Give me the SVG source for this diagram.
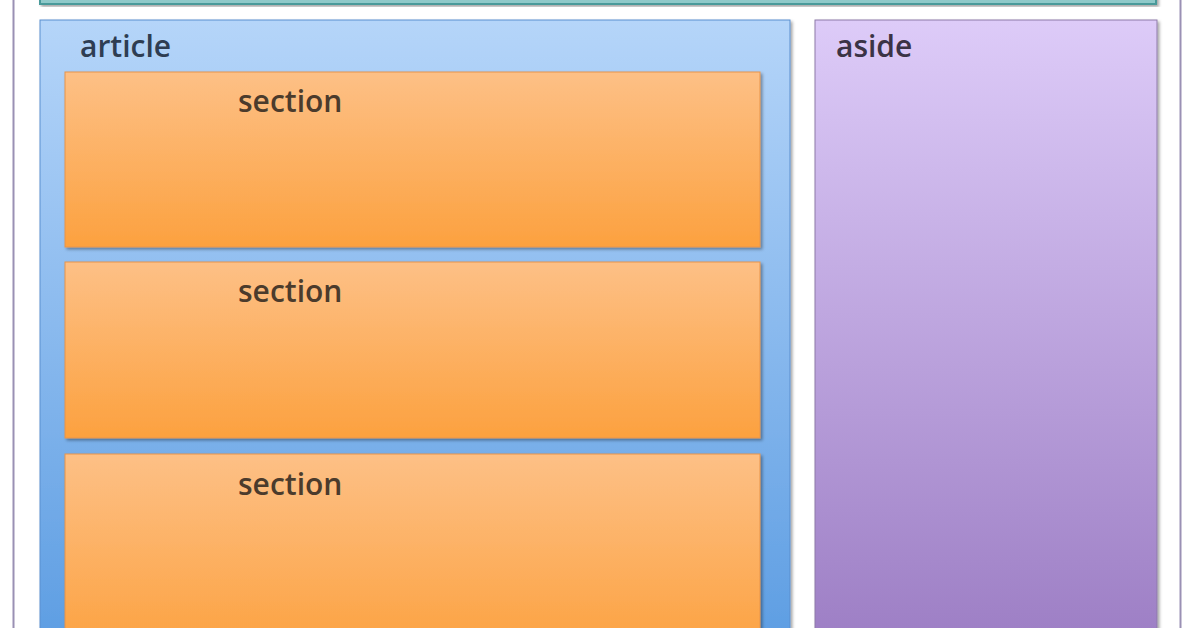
<svg xmlns="http://www.w3.org/2000/svg" width="1196" height="628" viewBox="0 0 1196 628">
<defs>
<linearGradient id="gBlue" x1="0" y1="0" x2="0" y2="1">
<stop offset="0" stop-color="#b5d5f9"/>
<stop offset="1" stop-color="#5b9ce2"/>
</linearGradient>
<linearGradient id="gPurple" x1="0" y1="0" x2="0" y2="1">
<stop offset="0" stop-color="#ddcbf8"/>
<stop offset="1" stop-color="#9b7cc3"/>
</linearGradient>
<linearGradient id="gOrange" x1="0" y1="0" x2="0" y2="1">
<stop offset="0" stop-color="#fdc086"/>
<stop offset="1" stop-color="#fca13f"/>
</linearGradient>
<filter id="sh" x="-5%" y="-5%" width="110%" height="110%">
<feDropShadow dx="2" dy="2" stdDeviation="1.5" flood-color="#000" flood-opacity="0.35"/>
</filter>
<style>
.lbl{font-family:"Open Sans","Noto Sans",sans-serif;font-size:30px;font-weight:600;}
.sec{fill:url(#gOrange);stroke:#e8944a;stroke-width:1;filter:url(#sh);}
</style>
</defs>
<rect width="1196" height="628" fill="#ffffff"/>
<g id="page">
<rect x="13.5" y="-20" width="1167" height="680" fill="#ffffff" stroke="#9a90b4" stroke-width="2"/>
</g>
<g id="header">
<rect x="40" y="-40" width="1116" height="44" fill="#8fc9c9" stroke="#4a9a9a" stroke-width="2" filter="url(#sh)"/>
</g>
<g id="article">
<rect x="40" y="20" width="750" height="640" fill="url(#gBlue)" stroke="#5a8fcf" stroke-width="1" filter="url(#sh)"/>
<text class="lbl" x="80" y="57" fill="#2e3d52">article</text>
</g>
<g id="section1">
<rect class="sec" x="65" y="72" width="695" height="175"/>
<text class="lbl" x="238" y="112" fill="#4b3b2c">section</text>
</g>
<g id="section2">
<rect class="sec" x="65" y="262" width="695" height="176"/>
<text class="lbl" x="238" y="302" fill="#4b3b2c">section</text>
</g>
<g id="section3">
<rect class="sec" x="65" y="454" width="695" height="200"/>
<text class="lbl" x="238" y="495" fill="#4b3b2c">section</text>
</g>
<g id="aside">
<rect x="815" y="20" width="342" height="640" fill="url(#gPurple)" stroke="#8e7aa8" stroke-width="1" filter="url(#sh)"/>
<text class="lbl" x="836" y="57" fill="#3b3345">aside</text>
</g>
<g id="connectors"/>
</svg>
